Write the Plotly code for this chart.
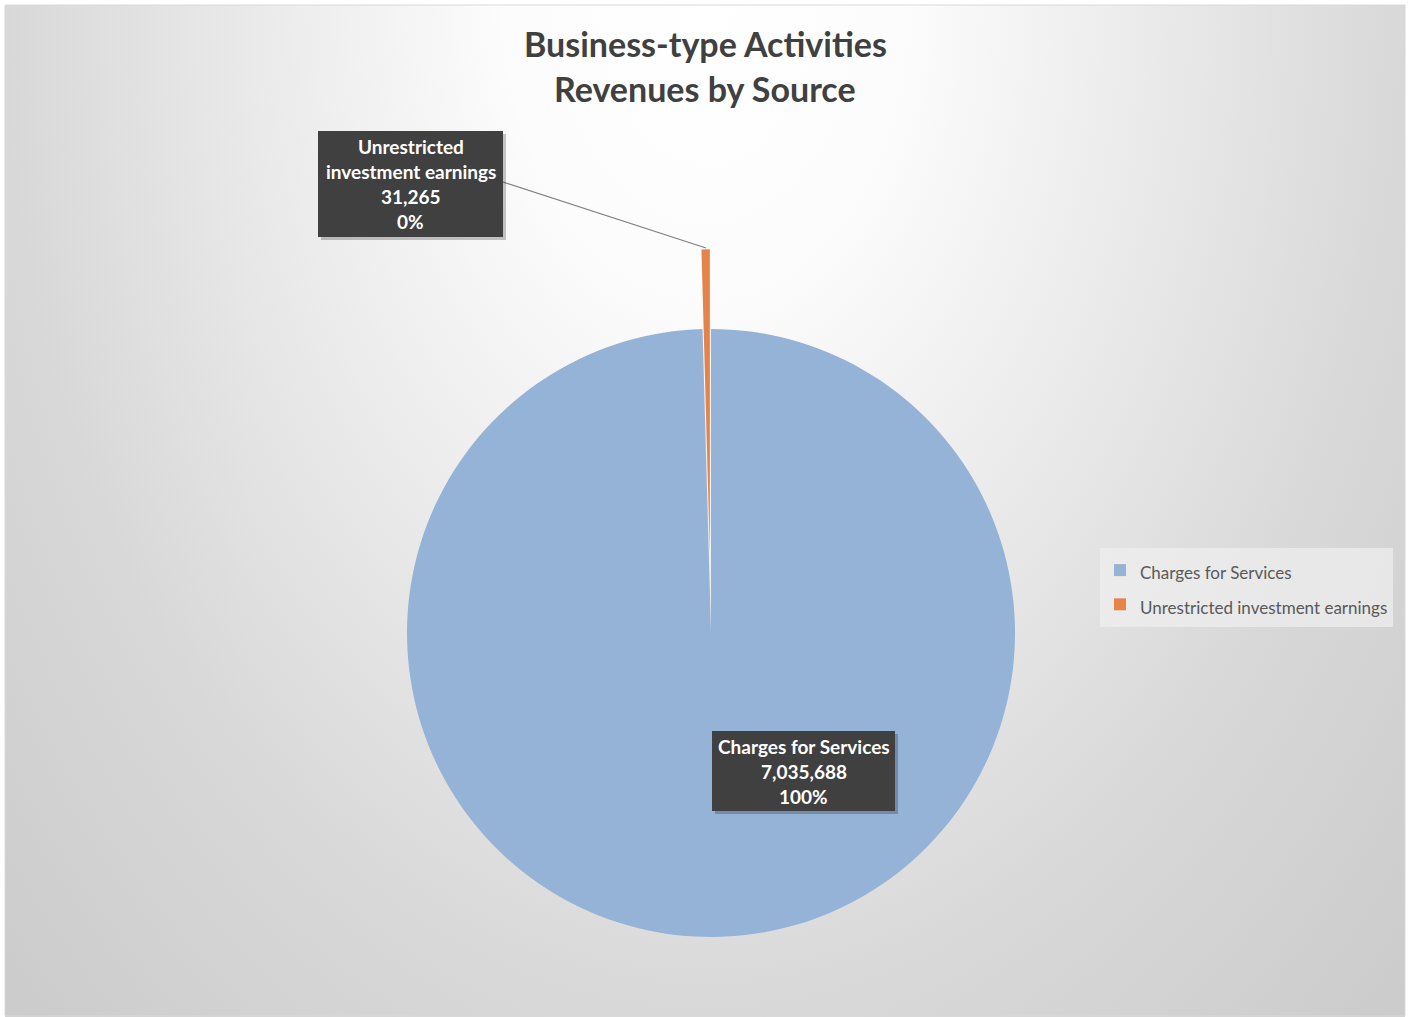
import base64
import plotly.graph_objects as go

# Revenue sources and amounts
categories = ["Charges for Services", "Unrestricted investment earnings"]
amounts = [7035688, 31265]
slice_colors = ["#95b3d7", "#e5844a"]
slice_pull = [0, 0.262]

title_lines = ["Business-type Activities", "Revenues by Source"]

W, H = 1411, 1017


def px(x):
    return x / W


def py(y):
    return 1 - y / H


total = sum(amounts)
label_lines = [
    list(parts) + [f"{v:,}", f"{round(100 * v / total)}%"]
    for parts, v in zip([["Charges for Services"], ["Unrestricted", "investment earnings"]], amounts)
]

# legend entries: larger legend font sets the row pitch, span keeps the text size
legend_labels = [f'<span style="font-size:17px">{c}</span>' for c in categories]

# soft radial backdrop, bright at top centre
svg = (
    '<svg xmlns="http://www.w3.org/2000/svg" width="1400" height="1012" '
    'viewBox="0 0 1400 1012" preserveAspectRatio="none">'
    '<defs><radialGradient id="g" gradientUnits="userSpaceOnUse" cx="700" cy="0" r="990" '
    'gradientTransform="translate(700 0) scale(1 1.445) translate(-700 0)">'
    '<stop offset="0" stop-color="#ffffff"/>'
    '<stop offset="0.2" stop-color="#fcfcfc"/>'
    '<stop offset="0.707" stop-color="#d8d8d8"/>'
    '<stop offset="1" stop-color="#cbcbcb"/>'
    '</radialGradient></defs>'
    '<rect width="1400" height="1012" fill="url(#g)"/></svg>'
)
bg_src = "data:image/svg+xml;base64," + base64.b64encode(svg.encode()).decode()

cx, cy, rad = 711, 633, 304
half = rad * (1 + max(slice_pull))

fig = go.Figure(
    go.Pie(
        labels=legend_labels,
        values=amounts,
        marker=dict(colors=slice_colors, line=dict(width=0)),
        pull=slice_pull,
        sort=False,
        direction="clockwise",
        rotation=0,
        textinfo="none",
        textposition="none",
        hoverinfo="skip",
        domain=dict(
            x=[px(cx - half), px(cx + half)],
            y=[py(cy + half), py(cy - half)],
        ),
    )
)

shapes = [
    dict(type="rect", xref="paper", yref="paper",
         x0=px(5), x1=px(1405), y0=py(1016), y1=py(5),
         line=dict(color="#d9d9d9", width=1), fillcolor="rgba(0,0,0,0)", layer="below"),
    dict(type="line", xref="paper", yref="paper",
         x0=px(503), y0=py(182), x1=px(706), y1=py(248),
         line=dict(color="#808080", width=1.2), layer="above"),
]

boxes = [(712, 731, 895, 811), (318, 131, 503, 237)]
for (x0, y0, x1, y1) in boxes:
    shapes.append(dict(type="rect", xref="paper", yref="paper",
                       x0=px(x0 + 3), x1=px(x1 + 3), y0=py(y1 + 3), y1=py(y0 + 3),
                       line=dict(width=0), fillcolor="rgba(0,0,0,0.22)", layer="above"))
    shapes.append(dict(type="rect", xref="paper", yref="paper",
                       x0=px(x0), x1=px(x1), y0=py(y1), y1=py(y0),
                       line=dict(width=0), fillcolor="#404040", layer="above"))

annotations = []
for lines, (x0, y0, x1, y1) in zip(label_lines, boxes):
    xc = (x0 + x1) / 2
    first = (y0 + y1) / 2 - 25 * (len(lines) - 1) / 2
    for i, t in enumerate(lines):
        annotations.append(dict(
            text=f"<b>{t}</b>", x=px(xc), y=py(first + 25 * i),
            xref="paper", yref="paper", xanchor="center", yanchor="middle",
            showarrow=False, font=dict(family="Lato", size=19, color="#ffffff"),
        ))

for i, t in enumerate(title_lines):
    annotations.append(dict(
        text=f"<b>{t}</b>", x=px(705), y=py(44 + 45 * i),
        xref="paper", yref="paper", xanchor="center", yanchor="middle",
        showarrow=False, font=dict(family="Lato", size=34, color="#404040"),
    ))

fig.update_layout(
    width=W,
    height=H,
    margin=dict(l=0, r=0, t=0, b=0),
    paper_bgcolor="#ffffff",
    plot_bgcolor="rgba(0,0,0,0)",
    images=[dict(source=bg_src, xref="paper", yref="paper",
                 x=px(5), y=py(5), sizex=1400 / W, sizey=1012 / H,
                 xanchor="left", yanchor="top", sizing="stretch", layer="below")],
    shapes=shapes,
    annotations=annotations,
    showlegend=True,
    legend=dict(
        x=px(1100), y=py(548), xanchor="left", yanchor="top",
        bgcolor="rgba(240,240,240,0.7)", borderwidth=0,
        font=dict(family="Lato", size=24, color="#595959"),
        traceorder="normal",
    ),
)

fig.write_html("out.html")
